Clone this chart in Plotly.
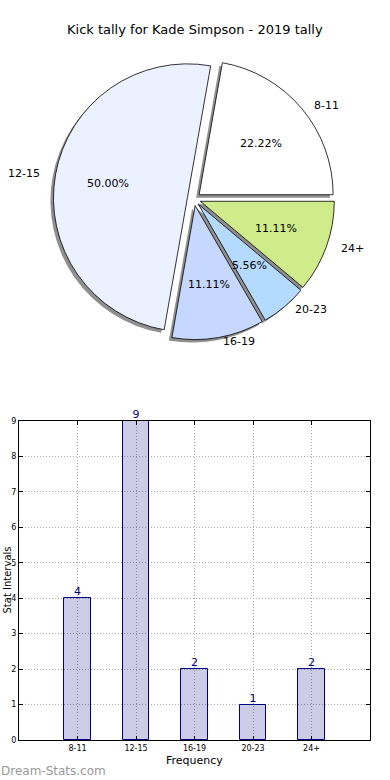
import math
import plotly.graph_objects as go

categories = ["8-11", "12-15", "16-19", "20-23", "24+"]
counts = [4, 9, 2, 1, 2]
pie_colors = ["#ffffff", "#ebf1ff", "#c6d8ff", "#b5daff", "#cfeb8a"]
y_ticks = list(range(0, 10))
title_text = "Kick tally for Kade Simpson - 2019 tally"

W, H = 390, 780
FONT = "DejaVu Sans"

# pie geometry (pixels)
cx, cy, r, pull = 194, 199, 134, 0.05
half = r * (1 + pull)
total = sum(counts)
# first slice starts at 3 o'clock and runs counterclockwise (matplotlib default)
rotation = 90 - 360 * counts[0] / total


def dom(px0, px1, py0, py1):
    return dict(x=[px0 / W, px1 / W], y=[1 - py1 / H, 1 - py0 / H])


fig = go.Figure()

# shadow pie
sh = 3
fig.add_trace(go.Pie(
    labels=categories, values=counts, sort=False, direction="counterclockwise",
    rotation=rotation, pull=[pull] * len(counts), textinfo="none", hoverinfo="skip",
    marker=dict(colors=["#8f8f8f"] * len(counts), line=dict(width=0)),
    domain=dom(cx - half - sh, cx + half - sh, cy - half + sh, cy + half + sh),
    showlegend=False,
))
# main pie
fig.add_trace(go.Pie(
    labels=categories, values=counts, sort=False, direction="counterclockwise",
    rotation=rotation, pull=[pull] * len(counts), textinfo="none",
    marker=dict(colors=pie_colors, line=dict(color="#000000", width=0.8)),
    domain=dom(cx - half, cx + half, cy - half, cy + half),
    showlegend=False,
))

annotations = []
start = 0.0
for lab, v in zip(categories, counts):
    frac = v / total
    mid = (start + frac / 2) * 2 * math.pi
    start += frac
    c, s = math.cos(mid), math.sin(mid)
    # percentage
    d = (pull + 0.6) * r
    annotations.append(dict(
        x=(cx + d * c) / W, y=1 - (cy - d * s) / H, xref="paper", yref="paper",
        text=f"{frac * 100:.2f}%", showarrow=False,
        font=dict(family=FONT, size=11, color="#000000"),
        xanchor="center", yanchor="middle"))
    # label
    d = (pull + 1.1) * r
    annotations.append(dict(
        x=(cx + d * c) / W, y=1 - (cy - d * s * 0.94) / H, xref="paper", yref="paper",
        text=lab, showarrow=False,
        font=dict(family=FONT, size=11, color="#000000"),
        xanchor="left" if c > 0 else "right", yanchor="middle"))

# bar chart
fig.add_trace(go.Bar(
    x=categories, y=counts, width=0.45,
    marker=dict(color="rgba(0,0,128,0.2)", line=dict(color="#000080", width=1)),
    xaxis="x", yaxis="y", showlegend=False,
))
fig.add_trace(go.Scatter(
    x=categories, y=counts, mode="text", text=[str(v) for v in counts],
    textposition="top center", cliponaxis=False,
    textfont=dict(family=FONT, size=11, color="#000080"),
    xaxis="x", yaxis="y", showlegend=False, hoverinfo="skip",
))

annotations += [
    dict(x=0.5, y=1 - 30 / H, xref="paper", yref="paper", text=title_text,
         showarrow=False, font=dict(family=FONT, size=13, color="#000000"),
         xanchor="center", yanchor="middle"),
    dict(x=194.5 / W, y=1 - 760 / H, xref="paper", yref="paper", text="Frequency",
         showarrow=False, font=dict(family=FONT, size=11, color="#000000"),
         xanchor="center", yanchor="middle"),
    dict(x=0, y=1 - 580 / H, xref="paper", yref="paper", text="Stat Intervals",
         showarrow=False, textangle=-90, font=dict(family=FONT, size=10, color="#000000"),
         xanchor="left", yanchor="middle", borderpad=0),
    dict(x=0, y=1 - 771 / H, xref="paper", yref="paper", text="Dream-Stats.com",
         showarrow=False, font=dict(family=FONT, size=12, color="#999999"),
         xanchor="left", yanchor="middle", borderpad=0),
]

axis_common = dict(
    showline=True, linecolor="#000000", linewidth=1, mirror="ticks",
    ticks="inside", ticklen=4, tickcolor="#000000",
    showgrid=True, gridcolor="#aaaaaa", griddash="1px,2px", gridwidth=1,
    layer="above traces", zeroline=False, automargin=False,
    tickfont=dict(family=FONT, size=8, color="#000000"),
)

fig.update_layout(
    width=W, height=H, margin=dict(l=0, r=0, t=0, b=0, autoexpand=False),
    paper_bgcolor="#ffffff", plot_bgcolor="#ffffff",
    annotations=annotations,
    xaxis=dict(domain=[19 / W, 370 / W], range=[-1, 5], type="category",
               anchor="y", **axis_common),
    yaxis=dict(domain=[1 - 740 / H, 1 - 421 / H], range=[0, 9], tickvals=y_ticks,
               anchor="x", **axis_common),
    bargap=0,
)

fig.write_html(
    "out.html",
    config={"displayModeBar": False},
    post_script="document.body.style.margin='0';document.body.style.overflow='hidden';",
)
